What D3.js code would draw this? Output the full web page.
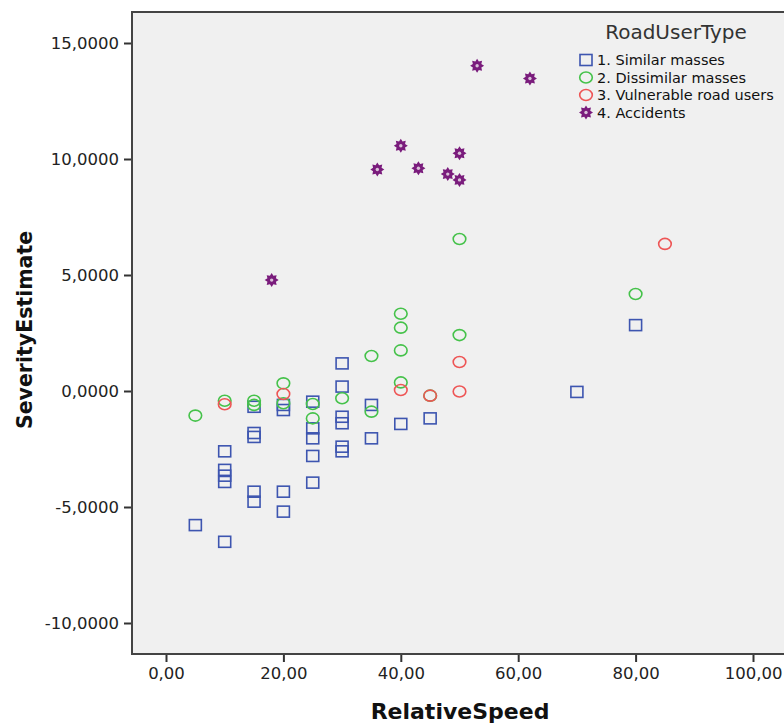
<!DOCTYPE html>
<html>
<head>
<meta charset="utf-8">
<script src="https://cdn.jsdelivr.net/npm/d3@7"></script>
<style>
body { margin: 0; background: #fff; }
svg { display: block; font-family: "DejaVu Sans", sans-serif; }
</style>
</head>
<body>
<div id="chart-area"></div>
<script>
// RoadUserType series, values
var similarSpeed = [5, 10, 10, 10, 10, 10, 15, 15, 15, 15, 15, 20, 20, 20, 20, 25, 25, 25, 25, 25, 30, 30, 30, 30, 30, 30, 35, 35, 40, 45, 70, 80];
var similarSeverity = [-5.78, -2.6, -3.4, -3.65, -3.92, -6.5, -0.68, -1.81, -1.98, -4.34, -4.77, -0.6, -0.82, -4.34, -5.2, -0.46, -1.61, -2.04, -2.8, -3.95, 1.19, 0.19, -1.11, -1.39, -2.4, -2.6, -0.6, -2.04, -1.42, -1.18, -0.04, 2.84];

var dissimilarSpeed = [5, 10, 15, 15, 20, 20, 25, 25, 30, 35, 35, 40, 40, 40, 40, 45, 50, 50, 80];
var dissimilarSeverity = [-1.06, -0.42, -0.42, -0.6, 0.33, -0.53, -0.56, -1.18, -0.31, 1.51, -0.89, 3.33, 2.73, 1.75, 0.37, -0.2, 6.55, 2.41, 4.18];

var vulnerableSpeed = [10, 20, 40, 45, 50, 50, 85];
var vulnerableSeverity = [-0.57, -0.13, 0.04, -0.2, 1.25, -0.02, 6.34];

var accidentSpeed = [18, 36, 40, 43, 48, 50, 50, 53, 62];
var accidentSeverity = [4.78, 9.55, 10.57, 9.6, 9.35, 10.25, 9.1, 14.02, 13.47];

var seriesNames = ["1. Similar masses", "2. Dissimilar masses", "3. Vulnerable road users", "4. Accidents"];
var xTicks = [0, 20, 40, 60, 80, 100];
var yTicks = [-10, -5, 0, 5, 10, 15];

var width = 784, height = 724;
var frame = {left: 132, top: 12, right: 792, bottom: 654};

var svg = d3.select("#chart-area").append("svg")
	.attr("width", width)
	.attr("height", height);

var x = d3.scaleLinear().domain([0, 100]).range([166, 753]);
var y = d3.scaleLinear().domain([-10, 15]).range([623, 43]);

var comma = function(n, digits) { return d3.format("." + digits + "f")(n).replace(".", ",").replace("−", "-"); };

svg.append("rect")
	.attr("x", frame.left)
	.attr("y", frame.top)
	.attr("width", frame.right - frame.left)
	.attr("height", frame.bottom - frame.top)
	.attr("fill", "#f0f0f0")
	.attr("stroke", "#444")
	.attr("stroke-width", 2);

var bottomAxis = d3.axisBottom(x).tickValues(xTicks).tickSize(7).tickPadding(5)
	.tickFormat(function(d) { return comma(d, 2); });
var gx = svg.append("g")
	.attr("transform", "translate(0," + (frame.bottom + 1) + ")")
	.call(bottomAxis);
gx.select(".domain").remove();

var leftAxis = d3.axisLeft(y).tickValues(yTicks).tickSize(7).tickPadding(5)
	.tickFormat(function(d) { return comma(d, 4); });
var gy = svg.append("g")
	.attr("transform", "translate(" + (frame.left - 1) + ",0)")
	.call(leftAxis);
gy.select(".domain").remove();

svg.selectAll(".tick line").attr("stroke", "#333").attr("stroke-width", 2);
svg.selectAll(".tick text")
	.attr("fill", "#222")
	.style("font-family", "DejaVu Sans, sans-serif")
	.style("font-size", "16.5px");

svg.append("text")
	.attr("x", 460)
	.attr("y", 719)
	.attr("text-anchor", "middle")
	.attr("font-weight", "bold")
	.attr("font-size", "22px")
	.attr("fill", "#111")
	.text("RelativeSpeed");

svg.append("text")
	.attr("transform", "translate(32,330) rotate(-90)")
	.attr("text-anchor", "middle")
	.attr("font-weight", "bold")
	.attr("font-size", "20.5px")
	.attr("fill", "#111")
	.text("SeverityEstimate");

var colors = ["#3d55b0", "#45c24a", "#ee5555", "#7a1c7c"];

// gear-like marker used for accidents
var starPath = (function() {
	var pts = [];
	for (var i = 0; i < 16; i++) {
		var a = i * Math.PI / 8;
		var r = i % 2 === 0 ? 7 : 4.6;
		pts.push([r * Math.sin(a), -r * Math.cos(a)]);
	}
	return "M" + pts.map(function(p) { return p[0].toFixed(2) + "," + p[1].toFixed(2); }).join("L") + "Z";
})();

function drawSquare(g, cx, cy) {
	g.append("rect")
		.attr("x", cx - 6).attr("y", cy - 5.5)
		.attr("width", 12).attr("height", 11)
		.attr("fill", "none")
		.attr("stroke", colors[0])
		.attr("stroke-width", 1.6);
}
function drawCircle(g, cx, cy, c) {
	g.append("ellipse")
		.attr("cx", cx).attr("cy", cy)
		.attr("rx", 6.3).attr("ry", 5.5)
		.attr("fill", "none")
		.attr("stroke", c)
		.attr("stroke-width", 1.6);
}
function drawStar(g, cx, cy) {
	g.append("path")
		.attr("d", starPath)
		.attr("transform", "translate(" + cx + "," + cy + ")")
		.attr("fill", colors[3]);
	g.append("circle")
		.attr("cx", cx).attr("cy", cy).attr("r", 1.7)
		.attr("fill", "#d9c2d9");
}

var marks = svg.append("g");
similarSpeed.forEach(function(s, i) { drawSquare(marks, x(s), y(similarSeverity[i])); });
dissimilarSpeed.forEach(function(s, i) { drawCircle(marks, x(s), y(dissimilarSeverity[i]), colors[1]); });
vulnerableSpeed.forEach(function(s, i) { drawCircle(marks, x(s), y(vulnerableSeverity[i]), colors[2]); });
accidentSpeed.forEach(function(s, i) { drawStar(marks, x(s), y(accidentSeverity[i])); });

// legend
var legend = svg.append("g");
legend.append("text")
	.attr("x", 676)
	.attr("y", 39)
	.attr("text-anchor", "middle")
	.attr("font-size", "20px")
	.attr("fill", "#333")
	.text("RoadUserType");

seriesNames.forEach(function(name, i) {
	var ly = 60 + i * 17.5;
	if (i === 0) drawSquare(legend, 586, ly);
	else if (i === 3) drawStar(legend, 586, ly);
	else drawCircle(legend, 586, ly, colors[i]);
	legend.append("text")
		.attr("x", 597)
		.attr("y", ly + 5)
		.attr("font-size", "14.5px")
		.attr("fill", "#111")
		.text(name);
});
</script>
</body>
</html>
